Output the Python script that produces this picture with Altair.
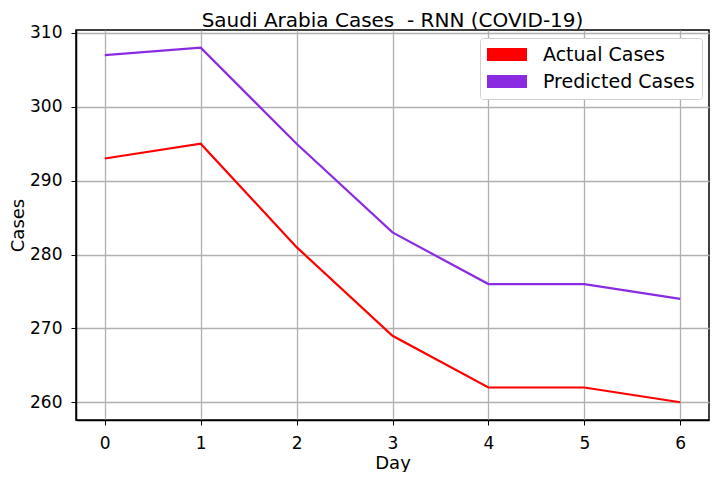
import altair as alt
import pandas as pd

days = [0, 1, 2, 3, 4, 5, 6]
actual = [293, 295, 281, 269, 262, 262, 260]
predicted = [307, 308, 295, 283, 276, 276, 274]
series_names = ["Actual Cases", "Predicted Cases"]
series_colors = ["#ff0000", "#8a2be2"]
y_ticks = [260, 270, 280, 290, 300, 310]

rows = []
for d, a, p in zip(days, actual, predicted):
    rows.append({"Day": d, "Cases": a, "Series": series_names[0], "Legend": series_names[0]})
    rows.append({"Day": d, "Cases": p, "Series": series_names[1], "Legend": series_names[1]})
df = pd.DataFrame(rows)

font = "DejaVu Sans"
rect_path = "M-10,-3.25L10,-3.25L10,3.25L-10,3.25Z"

x_enc = alt.X("Day:Q",
              scale=alt.Scale(domain=[-0.3, 6.3], nice=False, zero=False),
              axis=alt.Axis(values=days, title="Day", format="d"))
y_enc = alt.Y("Cases:Q",
              scale=alt.Scale(domain=[257.6, 310.4], nice=False, zero=False),
              axis=alt.Axis(values=y_ticks, title="Cases"))

base = alt.Chart(df)

lines = base.mark_line(strokeWidth=2.2).encode(
    x=x_enc,
    y=y_enc,
    stroke=alt.Stroke("Series:N",
                      scale=alt.Scale(domain=series_names, range=series_colors),
                      legend=None),
    detail="Series:N",
)

legend_layer = base.transform_filter("false").mark_point(
    filled=True, strokeWidth=0, opacity=1, shape=rect_path
).encode(
    x=x_enc,
    y=y_enc,
    fill=alt.Fill("Legend:N",
                  scale=alt.Scale(domain=series_names, range=series_colors),
                  legend=alt.Legend(title=None, orient="none", legendX=404, legendY=8,
                                    symbolType=rect_path, symbolSize=16,
                                    symbolStrokeWidth=0, symbolOpacity=1,
                                    labelFontSize=19, labelFont=font, labelColor="#000",
                                    fillColor="white", strokeColor="#d0d0d0",
                                    padding=7, rowPadding=7,
                                    cornerRadius=3, labelOffset=26.5,
                                    symbolOffset=10.5)),
)

chart = alt.layer(lines, legend_layer).resolve_scale(
    fill="independent", stroke="independent"
).properties(
    width=633,
    height=390,
    title=alt.TitleParams("Saudi Arabia Cases\u00a0 - RNN (COVID-19)", fontSize=20,
                          font=font, fontWeight="normal", color="#000", offset=2, dy=9),
    autosize=alt.AutoSizeParams(type="none"),
    padding={"left": 68, "top": 22, "right": 1, "bottom": 52},
).configure_axis(
    labelFont=font, labelFontSize=17, labelColor="#000",
    titleFont=font, titleFontSize=18, titleColor="#000", titleFontWeight="normal",
    domainColor="#000", domainWidth=1.5, tickColor="#000", tickSize=5, tickWidth=1,
    gridColor="#b0b0b0", gridWidth=1.3, gridOpacity=1,
).configure_axisY(
    labelPadding=9, titlePadding=2
).configure_axisX(
    labelPadding=10, titlePadding=3
).configure_view(
    stroke="#000", strokeWidth=1.5
)

chart.save("out.html", embed_options={"renderer": "svg", "actions": False})
